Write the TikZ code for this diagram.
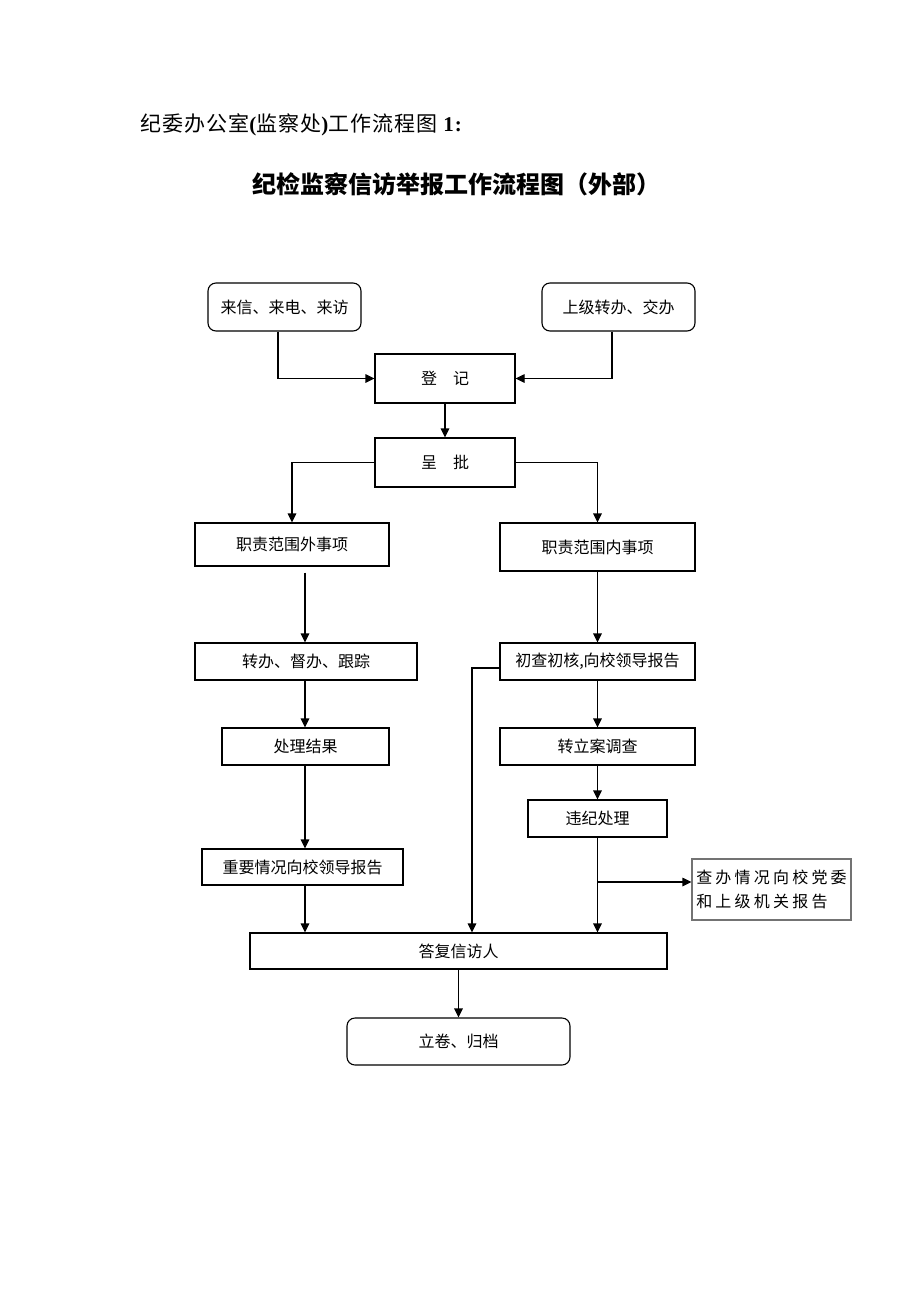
\documentclass[tikz,border=0pt]{standalone}
\usepackage{fontspec}
\setmainfont{Liberation Serif}
\newfontfamily\cjk{Noto Sans CJK SC}
\newfontfamily\cjkwide[LetterSpace=20]{Noto Sans CJK SC}
\newfontfamily\cjktitle[LetterSpace=5]{Noto Sans CJK SC}
\newfontfamily\serfwide[LetterSpace=5]{Liberation Serif}
\usetikzlibrary{arrows.meta,positioning,calc}
\tikzset{
  box/.style={draw=black,line width=1.1pt,inner sep=0pt,align=center,font=\cjk\fontsize{16}{20}\selectfont},
  rbox/.style={box,rounded corners=8pt},
  arr/.style={line width=1.1pt,-{Triangle[length=9pt,width=8.5pt]}},
  ln/.style={line width=1.1pt}
}
\begin{document}
\begin{tikzpicture}[x=1pt,y=-1pt]
\useasboundingbox[fill=white] (0,0) rectangle (920,1302);
% titles
\node[anchor=west,inner sep=0pt] (t1) at (140,125) {\cjktitle\fontsize{21}{24}\selectfont 纪委办公室{\serfwide\bfseries(}监察处{\serfwide\bfseries)}工作流程图 {\serfwide\bfseries 1:}};
\node[inner sep=0pt] (t2) at (456.5,184) {\cjk\bfseries\fontsize{24}{28}\selectfont 纪检监察信访举报工作流程图（外部）};
% boxes
\node[rbox,minimum width=153pt,minimum height=48pt] (src1) at (284.5,307) {来信、来电、来访};
\node[rbox,minimum width=153pt,minimum height=48pt] (src2) at (618.5,307) {上级转办、交办};
\node[box,minimum width=140pt,minimum height=49pt] (reg) at (445,378.5) {登\hspace{1em}记};
\node[box,minimum width=140pt,minimum height=49pt] (app) at (445,462.5) {呈\hspace{1em}批};
\node[box,minimum width=194pt,minimum height=43pt] (out) at (292,544.5) {职责范围外事项};
\node[box,minimum width=195pt,minimum height=48pt] (in) at (597.5,547) {职责范围内事项};
\node[box,minimum width=222pt,minimum height=37pt] (zb) at (306,661.5) {转办、督办、跟踪};
\node[box,minimum width=195pt,minimum height=37pt] (cc) at (597.5,661.5) {初查初核,向校领导报告};
\node[box,minimum width=167pt,minimum height=37pt] (cl) at (305.5,746.5) {处理结果};
\node[box,minimum width=195pt,minimum height=37pt] (la) at (597.5,746.5) {转立案调查};
\node[box,minimum width=139pt,minimum height=37pt] (wj) at (597.5,818.5) {违纪处理};
\node[box,minimum width=201pt,minimum height=36pt] (zy) at (302.5,867) {重要情况向校领导报告};
\node[box,draw=black!55,minimum width=159pt,minimum height=61pt,align=left,font=\cjkwide\fontsize{16}{24}\selectfont] (cb) at (771.5,889.5) {查办情况向校党委\\和上级机关报告};
\node[box,minimum width=417pt,minimum height=36pt] (df) at (458.5,951) {答复信访人};
\node[rbox,minimum width=223pt,minimum height=47pt] (lj) at (458.5,1041.5) {立卷、归档};
% connectors
\draw[arr] ([xshift=-6.5pt]src1.south) |- (reg.west);
\draw[arr] ([xshift=-6.5pt]src2.south) |- (reg.east);
\draw[arr] (reg.south) -- (app.north);
\draw[arr] (app.west) -| (out.north);
\draw[arr] (app.east) -| (in.north);
\draw[arr] ([xshift=13pt,yshift=-6pt]out.south) -- ([xshift=-1pt]zb.north);
\draw[arr] ([xshift=-1pt]zb.south) -- ([xshift=-0.5pt]cl.north);
\draw[arr] ([xshift=-0.5pt]cl.south) -- ([xshift=2.5pt]zy.north);
\draw[arr] ([xshift=2.5pt]zy.south) -- ([xshift=-153.5pt]df.north);
\draw[arr] (in.south) -- (cc.north);
\draw[arr] ([yshift=-6.5pt]cc.west) -| ([xshift=13.5pt]df.north);
\draw[arr] (cc.south) -- (la.north);
\draw[arr] (la.south) -- (wj.north);
\draw[arr] (wj.south) -- (wj.south |- df.north);
\coordinate (cbw) at ([yshift=7.5pt]cb.west);
\draw[arr] (wj.south |- cbw) -- (cbw);
\draw[arr] (df.south) -- (lj.north);
\end{tikzpicture}
\end{document}
